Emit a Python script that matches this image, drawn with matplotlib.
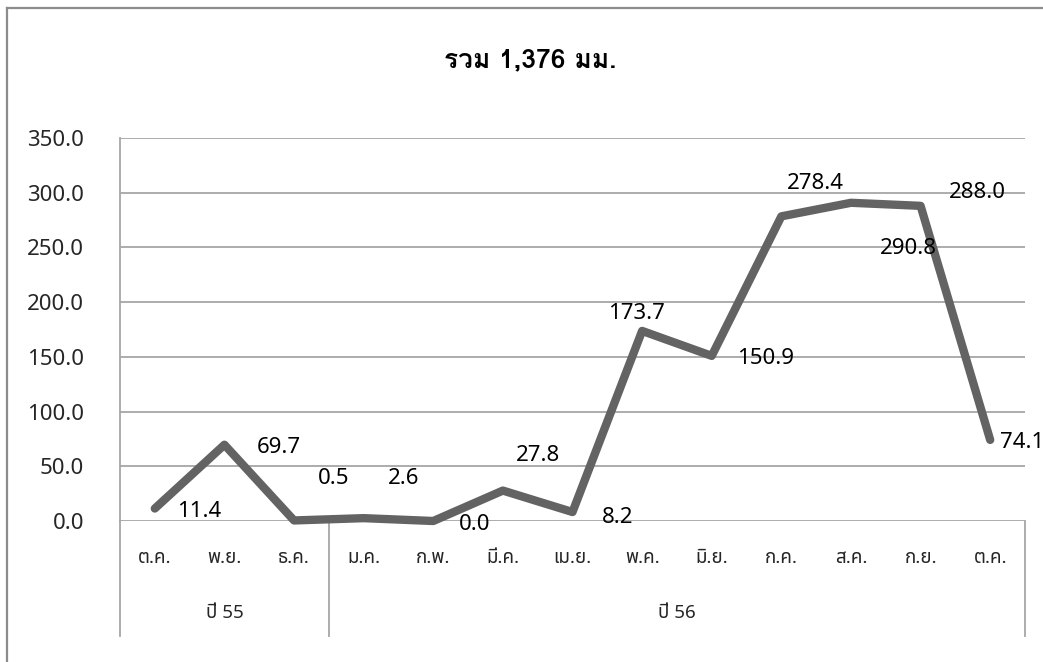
import matplotlib
matplotlib.use("Agg")
import matplotlib.pyplot as plt
from matplotlib import font_manager
from matplotlib.ft2font import FT2Font
from matplotlib.lines import Line2D
import matplotlib.transforms as mtransforms

# ---- data -------------------------------------------------------------
months = ["ต.ค.", "พ.ย.", "ธ.ค.", "ม.ค.", "ก.พ.", "มี.ค.", "เม.ย.",
          "พ.ค.", "มิ.ย.", "ก.ค.", "ส.ค.", "ก.ย.", "ต.ค."]
rain_mm = [11.4, 69.7, 0.5, 2.6, 0.0, 27.8, 8.2,
           173.7, 150.9, 278.4, 290.8, 288.0, 74.1]
year_groups = ["ปี 55", "ปี 56"]
year_spans = [(0, 2), (3, 12)]          # first / last month index of each year
title_text = "รวม 1,376 มม."
y_ticks = [0, 50, 100, 150, 200, 250, 300, 350]

# label offsets (pixels) for each value label, relative to its point
label_offsets = [(44, -3), (54, -3), (40, 42), (40, 40), (41, -4), (35, 35),
                 (45, -5), (-6, 17), (54, -3), (34, 33), (57, -46), (57, 13),
                 (10, -3)]


# ---- fonts: pick a family that can render Thai ------------------------
def thai_fonts():
    """Return {family: set of weights} for installed fonts covering Thai."""
    out = {}
    seen = set()
    for f in font_manager.fontManager.ttflist:
        if f.fname in seen:
            continue
        seen.add(f.fname)
        try:
            ft = FT2Font(f.fname)
            if ft.get_char_index(0x0E23) and ft.get_char_index(0x0E21):
                w = f.weight
                if isinstance(w, str):
                    w = 700 if "bold" in w.lower() else 400
                out.setdefault(f.name, set()).add(int(w))
        except Exception:
            continue
    return out


preferred = ["Noto Sans Thai", "Noto Sans Thai UI", "Leelawadee UI", "Tahoma",
             "Loma", "Garuda", "Tlwg Typo", "Kinnari", "Norasi", "Sawasdee",
             "Umpush", "Waree", "DejaVu Sans", "Noto Sans"]
available = thai_fonts()
ordered = [p for p in preferred if p in available] + \
          [n for n in available if n not in preferred]
thai = ordered[0] if ordered else None
thai_bold = next((n for n in ordered if max(available[n]) >= 600), thai)

families = ["DejaVu Sans"]
if thai and thai != "DejaVu Sans":
    families = [thai, "DejaVu Sans"]
title_families = families
if thai_bold and thai_bold != "DejaVu Sans":
    title_families = [thai_bold, "DejaVu Sans"]
plt.rcParams["font.family"] = families

# ---- figure -----------------------------------------------------------
W, H = 1043, 662
fig = plt.figure(figsize=(W / 100, H / 100), dpi=100)
fig.patch.set_facecolor("white")

# outer chart frame (left and top edges)
frame_col = "#8c8c8c"
fig.add_artist(Line2D([7 / W, 7 / W], [0, 1 - 8 / H], color=frame_col, lw=1.6,
                      transform=fig.transFigure))
fig.add_artist(Line2D([7 / W, 1], [1 - 8 / H, 1 - 8 / H], color=frame_col, lw=1.6,
                      transform=fig.transFigure))

left, right, top, bottom = 120, 1025, 138, 521
ax = fig.add_axes([left / W, 1 - bottom / H, (right - left) / W, (bottom - top) / H])

n = len(months)
ax.set_xlim(-0.5, n - 0.5)
ax.set_ylim(0, 350)

grid_col = "#a6a6a6"
for yv in y_ticks:
    ax.axhline(yv, color=grid_col, lw=1.3, zorder=1)

for s in ["top", "right", "bottom"]:
    ax.spines[s].set_visible(False)
ax.spines["left"].set_color(grid_col)
ax.spines["left"].set_linewidth(1.3)

ax.set_yticks(y_ticks)
ax.set_yticklabels([f"{v:.1f}" for v in y_ticks])
ax.tick_params(axis="y", length=0, pad=26, labelsize=16, labelcolor="#262626")
ax.set_xticks([])

x = list(range(n))
ax.plot(x, rain_mm, color="#636363", lw=6, solid_capstyle="round",
        solid_joinstyle="round", zorder=3, clip_on=False)

for xi, v, (dx, dy) in zip(x, rain_mm, label_offsets):
    ha = "left" if xi == n - 1 else "center"
    ax.annotate(f"{v:.1f}", (xi, v), xytext=(dx, dy), textcoords="offset pixels",
                ha=ha, va="center", fontsize=16, color="black", zorder=4,
                annotation_clip=False)

# category axis: month row, year row and separators
trans = mtransforms.blended_transform_factory(ax.transData, ax.transAxes)
row1 = -(558 - bottom) / (bottom - top)
row2 = -(613 - bottom) / (bottom - top)
sep_end = -(636 - bottom) / (bottom - top)

for xi, m in enumerate(months):
    ax.text(xi, row1, m, transform=trans, ha="center", va="center",
            fontsize=13.5, color="#262626")

edges = sorted({-0.5} | {s[1] + 0.5 for s in year_spans})
for e in edges:
    ax.add_artist(Line2D([e, e], [0, sep_end], transform=trans, color=grid_col,
                         lw=1.3, clip_on=False))

for name, (a, b) in zip(year_groups, year_spans):
    ax.text((a + b) / 2, row2, name, transform=trans, ha="center", va="center",
            fontsize=13.5, color="#262626")

fig.text(530 / W, 1 - 60 / H, title_text, ha="center", va="center",
         fontsize=19, fontweight="bold", color="black", family=title_families)

fig.savefig("out.png", dpi=100, facecolor="white")
